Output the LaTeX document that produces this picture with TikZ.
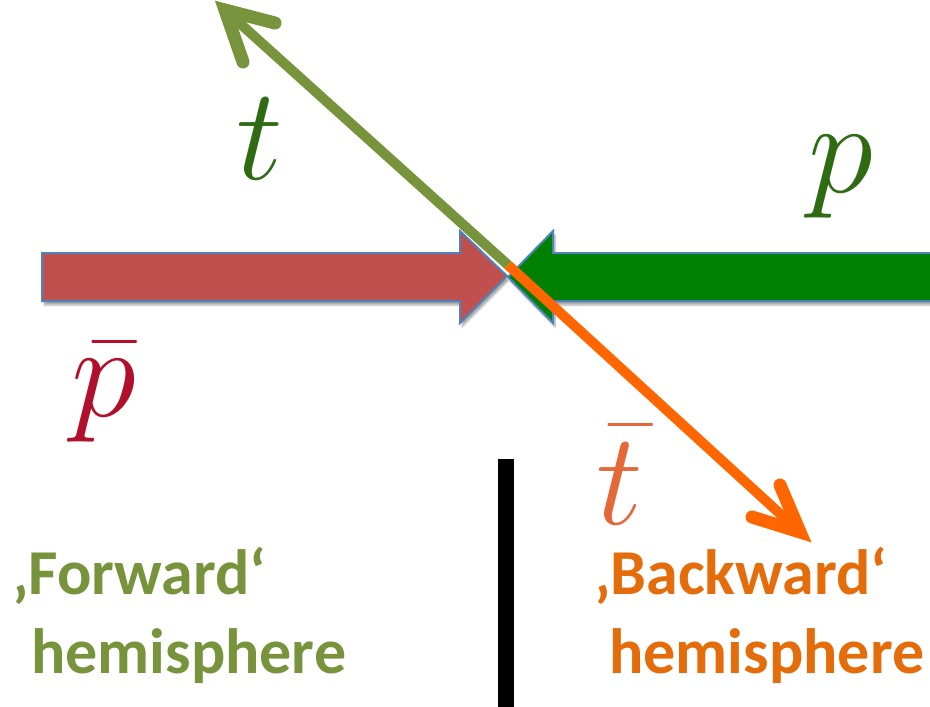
\RequirePackage{fix-cm}
\documentclass[tikz,border=0pt]{standalone}
\usepackage{fontspec}
\newfontfamily\carlito{Carlito}
\usetikzlibrary{shadows.blur,calc}
\definecolor{redA}{HTML}{C0504D}
\definecolor{blueE}{HTML}{4F81BD}
\definecolor{greenA}{HTML}{008000}
\definecolor{oliveL}{HTML}{77933C}
\definecolor{orangeL}{HTML}{FF6600}
\definecolor{orangeT}{HTML}{E46C0A}
\definecolor{tgreen}{HTML}{2F6B12}
\definecolor{pred}{HTML}{B0102C}
\definecolor{torange}{HTML}{E4683A}
\tikzset{
  blockarrow/.style={draw=blueE, line width=2pt, line join=miter,
    blur shadow={shadow xshift=2pt, shadow yshift=-4pt, shadow blur steps=6, shadow opacity=35}},
  vecline/.style={line width=10pt},
  vechead/.style={line width=13pt, line cap=round, line join=miter, miter limit=20},
  lbl/.style={inner sep=0pt, font=\fontsize{132}{132}\selectfont},
  hemi/.style={inner sep=0pt, anchor=base west, font=\carlito\bfseries\fontsize{64}{64}\selectfont},
}
\begin{document}
\begin{tikzpicture}[x=1pt,y=-1pt]
\useasboundingbox (0,0) rectangle (930,707);
\clip (0,0) rectangle (930,707);
% block arrows
\path[blockarrow, fill=redA] (42,253) -- (460,253) -- (460,231) -- (507,276) -- (460,323) -- (460,301) -- (42,301) -- cycle;
\path[blockarrow, fill=greenA] (945,253) -- (553,253) -- (553,231) -- (508,277) -- (553,323) -- (553,301) -- (945,301) -- cycle;
% vectors
\coordinate (c) at (508,265);
\coordinate (ttip) at (225,10);
\coordinate (tbtip) at (800,532);
\coordinate (ta1) at (275,23);
\coordinate (ta2) at (243,62);
\coordinate (tb1) at (780,485);
\coordinate (tb2) at (752,517);
\draw[vecline, oliveL] (c) -- ($(ttip)!4pt!(c)$);
\draw[vechead, oliveL] (ta1) -- (ttip) -- (ta2);
\draw[vecline, orangeL] (c) -- ($(tbtip)!4pt!(c)$);
\draw[vechead, orangeL] (tb1) -- (tbtip) -- (tb2);
% labels
\node[lbl, text=tgreen] (tl) at (260,139) {$t$};
\node[lbl, text=tgreen] (pl) at (841,177) {$p$};
\node[lbl, text=pred] (pbl) at (104,392) {$\bar{p}$};
\node[lbl, text=torange] (tbl) at (620,475) {$\bar{t}$};
% divider
\coordinate (d1) at (506,459);
\coordinate (d2) at (506,707);
\draw[line width=16pt, black] (d1) -- (d2);
% hemisphere texts
\node[hemi, text=oliveL] (f1) at (12,594) {‚Forward‘};
\node[hemi, text=oliveL] (f2) at (31,673) {hemisphere};
\node[hemi, text=orangeT] (b1) at (594,594) {‚Backward‘};
\node[hemi, text=orangeT] (b2) at (609,673) {hemisphere};
\end{tikzpicture}
\end{document}
